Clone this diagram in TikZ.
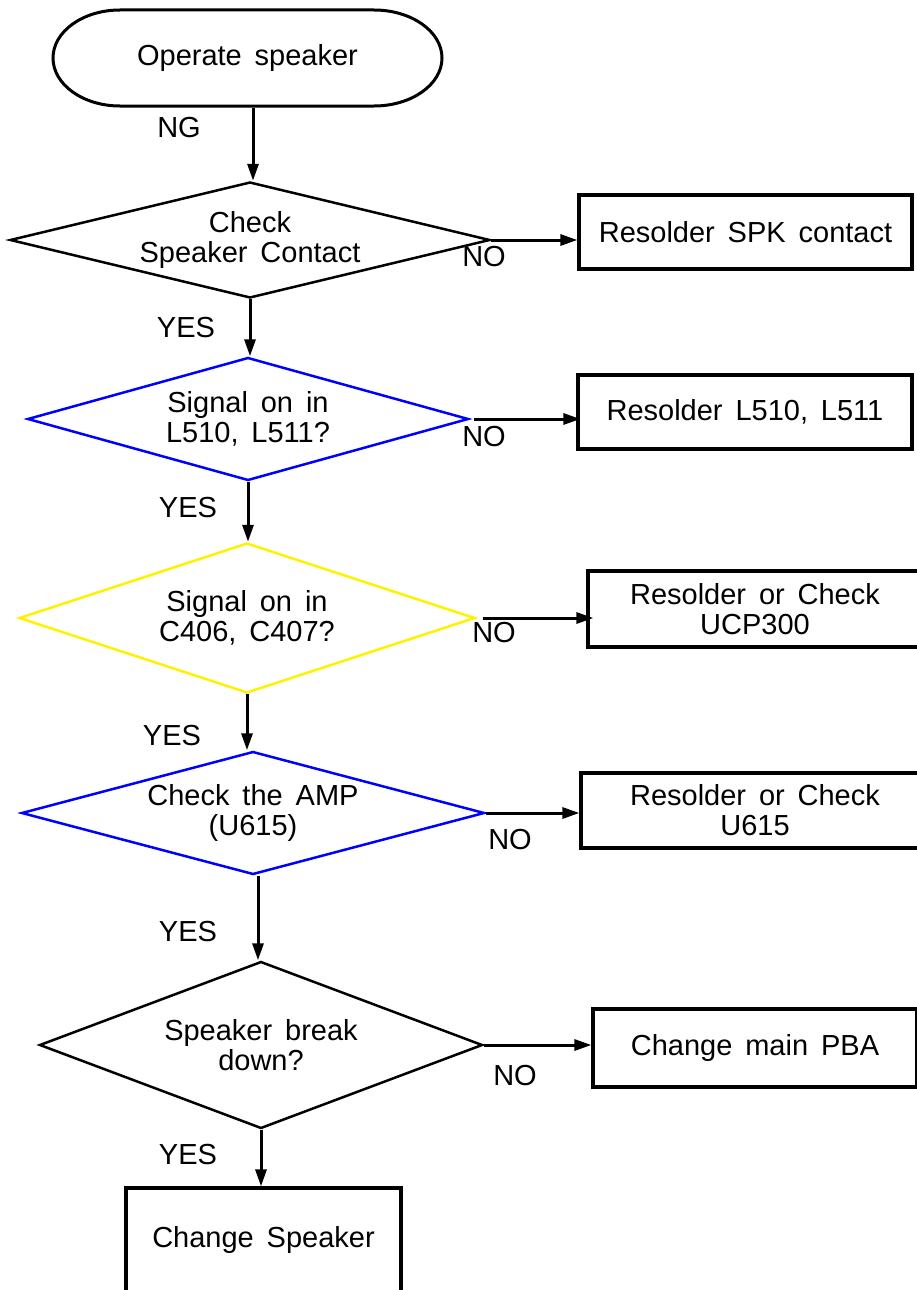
\documentclass[tikz,border=0pt]{standalone}
\usepackage{fontspec}
\setmainfont[WordSpace=1.6]{Liberation Sans}
\usetikzlibrary{shapes.geometric,arrows.meta}
\begin{document}
\begin{tikzpicture}[x=1pt,y=1pt,
  every node/.style={font=\fontsize{29}{30}\selectfont, align=center},
  dec/.style={draw, shape=diamond, line width=2.5pt, inner sep=0pt},
  box/.style={draw, rectangle, line width=3.2pt, inner sep=0pt},
  arr/.style={line width=3pt, -{Triangle[length=17pt,width=11pt]}},
  lbl/.style={inner sep=0pt}]
\useasboundingbox (0,0) rectangle (917,-1290);
\clip (0,0) rectangle (917,-1290);

% terminator
\draw[line width=3pt] (120,-10) -- (374,-10)
  arc[start angle=90, end angle=-90, x radius=68, y radius=48]
  -- (120,-106)
  arc[start angle=270, end angle=90, x radius=67, y radius=48] -- cycle;
\node[lbl] (t) at (247.5,-58) {Operate speaker};
\coordinate (tb) at (253,-107.5);

% decisions
\node[dec, minimum width=480pt, minimum height=116pt, aspect=4.14] (d1) at (250,-240) {Check\\Speaker Contact};
\node[dec, draw=blue, minimum width=441pt, minimum height=123pt, aspect=3.59] (d2) at (248,-419) {Signal on in\\L510, L511?};
\node[dec, draw=yellow, minimum width=456pt, minimum height=150pt, aspect=3.04] (d3) at (247,-618) {Signal on in\\C406, C407?};
\node[dec, draw=blue, minimum width=463pt, minimum height=123pt, aspect=3.76] (d4) at (253,-813) {Check the AMP\\(U615)};
\node[dec, minimum width=443pt, minimum height=167pt, aspect=2.65] (d5) at (261,-1045) {Speaker break\\down?};

% boxes
\node[box, minimum width=333pt, minimum height=74pt] (b1) at (745.5,-232) {Resolder SPK contact};
\node[box, minimum width=334pt, minimum height=74pt] (b2) at (745,-412) {Resolder L510, L511};
\node[box, minimum width=334pt, minimum height=76pt] (b3) at (755,-609) {Resolder or Check\\UCP300};
\node[box, minimum width=348pt, minimum height=75pt] (b4) at (755,-810.5) {Resolder or Check\\U615};
\node[box, minimum width=324pt, minimum height=78pt] (b5) at (755,-1048) {Change main PBA};
\node[box, minimum width=275pt, minimum height=104pt] (b6) at (263.5,-1240) {Change Speaker};

% vertical arrows
\draw[arr] (tb) -- (tb |- d1.north);
\draw[arr] (d1.south) -- (d1.south |- d2.north);
\draw[arr] (d2.south) -- (d2.south |- d3.north);
\draw[arr] (d3.south) -- (d3.south |- d4.north);
\draw[arr] ([xshift=5pt]d4.south) -- ([xshift=5pt]d4.south |- d5.north);
\draw[arr] (d5.south) -- (d5.south |- b6.north);

% horizontal arrows
\draw[arr] (d1.east) -- (d1.east -| b1.west);
\draw[arr] ([xshift=4pt]d2.east) -- ([xshift=4pt]d2.east -| b2.west);
\draw[arr] ([xshift=7pt]d3.east) -- ([xshift=7pt]d3.east -| b3.west);
\draw[arr] (d4.east) -- (d4.east -| b4.west);
\draw[arr] (d5.east) -- (d5.east -| b5.west);

% labels
\node[lbl] (ng) at (179,-128) {NG};
\node[lbl] (y1) at (186,-328) {YES};
\node[lbl] (n1) at (484,-257) {NO};
\node[lbl] (y2) at (188,-508) {YES};
\node[lbl] (n2) at (484,-437) {NO};
\node[lbl] (y3) at (172,-736) {YES};
\node[lbl] (n3) at (494,-633) {NO};
\node[lbl] (y4) at (188,-932) {YES};
\node[lbl] (n4) at (510,-840) {NO};
\node[lbl] (y5) at (188,-1155) {YES};
\node[lbl] (n5) at (515,-1076) {NO};
\end{tikzpicture}
\end{document}
